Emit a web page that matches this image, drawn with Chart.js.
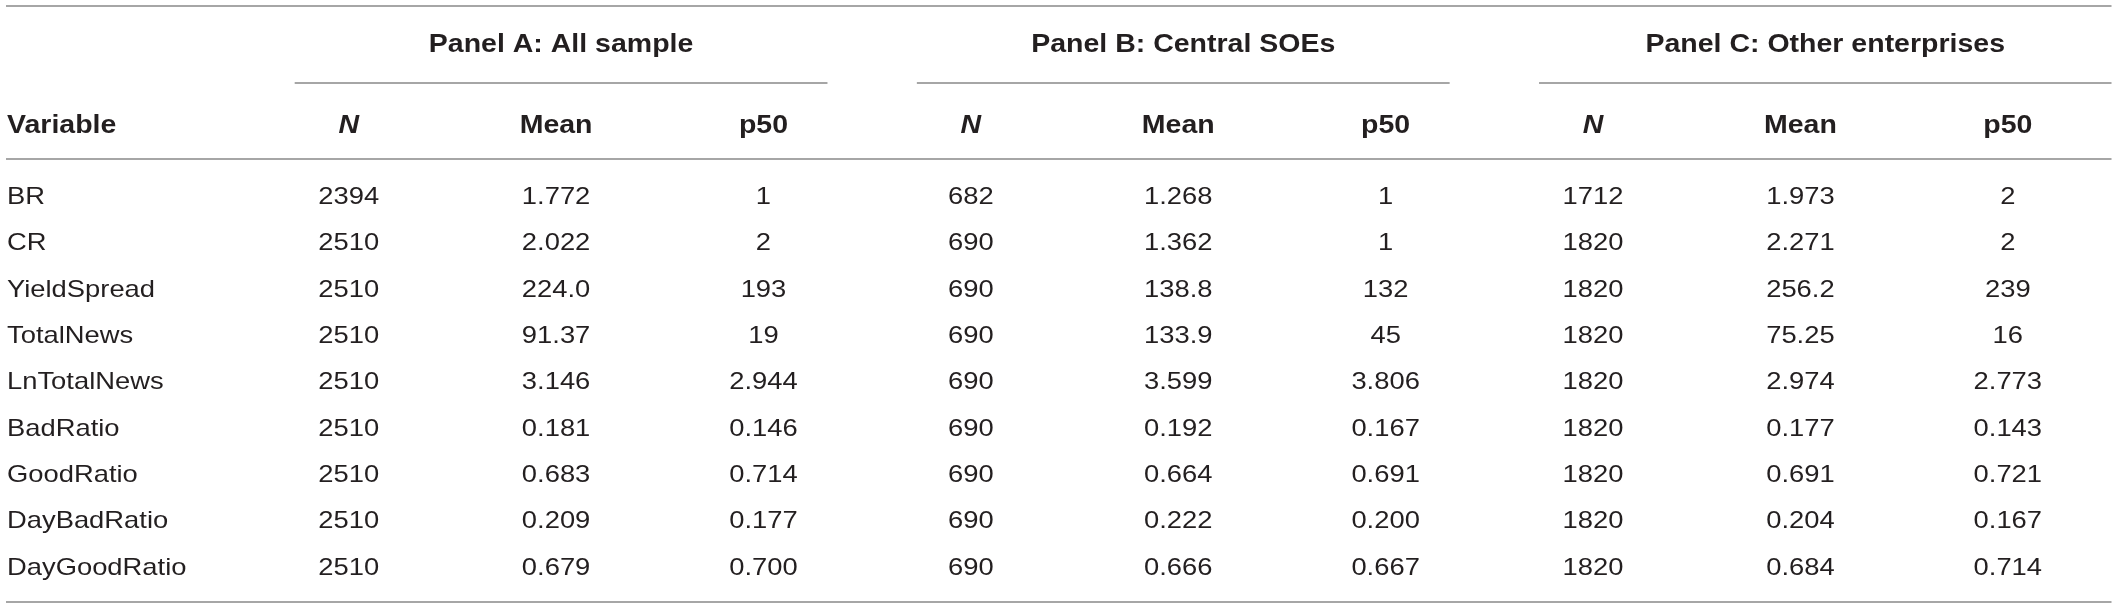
<!DOCTYPE html>
<html lang="en">
<head>
  <meta charset="UTF-8" />
  <title>Panel summary statistics</title>
  <script src="https://cdn.jsdelivr.net/npm/chart.js"></script>
  <style>
    html, body { margin: 0; padding: 0; background: #fff; }
    #wrap { width: 2118px; height: 607px; position: relative; }
  </style>
</head>
<body>
<div id="wrap"><canvas id="tableChart"></canvas></div>
<script>
  // rows and columns of the table
  const variables = ['BR', 'CR', 'YieldSpread', 'TotalNews', 'LnTotalNews', 'BadRatio', 'GoodRatio', 'DayBadRatio', 'DayGoodRatio'];
  const panelTitles = ['Panel A: All sample', 'Panel B: Central SOEs', 'Panel C: Other enterprises'];
  const statHeaders = ['N', 'Mean', 'p50'];
  const firstHeader = 'Variable';

  // Panel A
  const allN    = ['2394', '2510', '2510', '2510', '2510', '2510', '2510', '2510', '2510'];
  const allMean = ['1.772', '2.022', '224.0', '91.37', '3.146', '0.181', '0.683', '0.209', '0.679'];
  const allP50  = ['1', '2', '193', '19', '2.944', '0.146', '0.714', '0.177', '0.700'];
  // Panel B
  const soeN    = ['682', '690', '690', '690', '690', '690', '690', '690', '690'];
  const soeMean = ['1.268', '1.362', '138.8', '133.9', '3.599', '0.192', '0.664', '0.222', '0.666'];
  const soeP50  = ['1', '1', '132', '45', '3.806', '0.167', '0.691', '0.200', '0.667'];
  // Panel C
  const othN    = ['1712', '1820', '1820', '1820', '1820', '1820', '1820', '1820', '1820'];
  const othMean = ['1.973', '2.271', '256.2', '75.25', '2.974', '0.177', '0.691', '0.204', '0.684'];
  const othP50  = ['2', '2', '239', '16', '2.773', '0.143', '0.721', '0.167', '0.714'];

  const panelColumns = [
    [allN, allMean, allP50],
    [soeN, soeMean, soeP50],
    [othN, othMean, othP50]
  ];

  // styling
  const FAMILY = '"Liberation Sans", Arial, Helvetica, sans-serif';
  const TEXT = '#231f20';
  const RULE = '#a6a6a6';
  const STRETCH = 1.14;   // source type is a bit wider than Arial

  const colKeys = [];
  const datasets = [];
  panelColumns.forEach((cols, p) => {
    cols.forEach((values, c) => {
      const key = 'p' + p + '_' + statHeaders[c];
      colKeys.push(key);
      datasets.push({
        label: key,
        cellText: values,
        header: statHeaders[c],
        panel: p,
        data: variables.map(v => ({ x: key, y: v })),
        pointRadius: 0
      });
    });
  });

  function drawText(ctx, str, x, y, align, font) {
    ctx.save();
    ctx.translate(x, y);
    ctx.scale(STRETCH, 1);
    ctx.font = font;
    ctx.textAlign = align;
    ctx.textBaseline = 'alphabetic';
    ctx.fillStyle = TEXT;
    ctx.fillText(str, 0, 0);
    ctx.restore();
  }

  function rule(ctx, x1, x2, y) {
    ctx.beginPath();
    ctx.moveTo(x1, y);
    ctx.lineTo(x2, y);
    ctx.stroke();
  }

  const tablePlugin = {
    id: 'tableDraw',
    afterDatasetsDraw(chart) {
      const ctx = chart.ctx;
      const xs = chart.scales.x;
      const ys = chart.scales.y;
      const area = chart.chartArea;
      const firstRow = ys.getPixelForValue(0);
      const lastRow = ys.getPixelForValue(variables.length - 1);
      const tableLeft = 6;
      const tableRight = area.right;
      const bodyFont = '24px ' + FAMILY;
      const headFont = 'bold 25px ' + FAMILY;

      ctx.save();
      ctx.strokeStyle = RULE;
      ctx.lineWidth = 2;
      rule(ctx, tableLeft, tableRight, firstRow - 189.5);
      rule(ctx, tableLeft, tableRight, firstRow - 36.5);
      rule(ctx, tableLeft, tableRight, lastRow + 36);

      // panel titles and their underlines
      panelTitles.forEach((title, p) => {
        const a = xs.getPixelForValue(p * 3);
        const b = xs.getPixelForValue(p * 3 + 2);
        const x1 = a - 54;
        const x2 = p === panelTitles.length - 1 ? tableRight : b + 64;
        rule(ctx, x1, x2, firstRow - 112.5);
        drawText(ctx, title, (x1 + x2) / 2, firstRow - 143.5, 'center', headFont);
      });
      ctx.restore();

      // column headers
      const headY = firstRow - 62.5;
      drawText(ctx, firstHeader, tableLeft + 1, headY, 'left', headFont);
      datasets.forEach((ds, i) => {
        const x = xs.getPixelForValue(i);
        const f = ds.header === 'N' ? 'italic ' + headFont : headFont;
        drawText(ctx, ds.header, x, headY, 'center', f);
      });

      // row labels
      ys.getLabels().forEach((lab, r) => {
        drawText(ctx, lab, tableLeft + 1, ys.getPixelForValue(r) + 8.6, 'left', bodyFont);
      });

      // cells
      chart.data.datasets.forEach((ds, i) => {
        const meta = chart.getDatasetMeta(i);
        meta.data.forEach((pt, r) => {
          drawText(ctx, ds.cellText[r], pt.x, pt.y + 8.6, 'center', bodyFont);
        });
      });
    }
  };

  new Chart(document.getElementById('tableChart'), {
    type: 'scatter',
    data: { datasets },
    options: {
      responsive: true,
      maintainAspectRatio: false,
      animation: false,
      events: [],
      layout: { padding: { left: 245, right: 6.5, top: 195.5, bottom: 41 } },
      scales: {
        x: { type: 'category', labels: colKeys, offset: true, display: false },
        y: { type: 'category', labels: variables, offset: false, display: false }
      },
      plugins: { legend: { display: false }, tooltip: { enabled: false } }
    },
    plugins: [tablePlugin]
  });
</script>
</body>
</html>
